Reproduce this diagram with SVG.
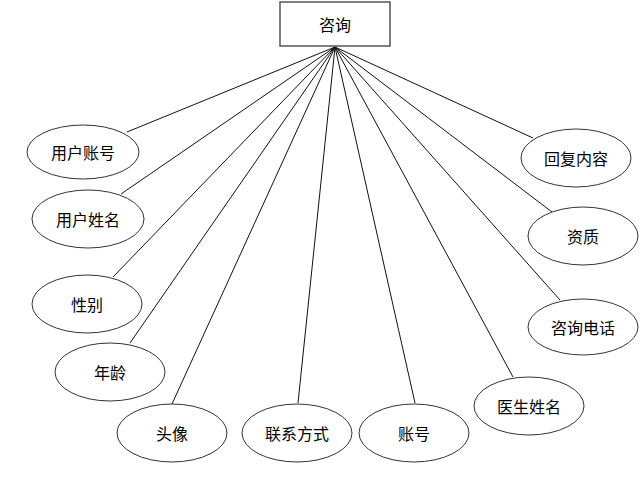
<svg xmlns="http://www.w3.org/2000/svg" width="641" height="493" viewBox="0 0 641 493">
<style>
.n{fill:#fff;stroke:#333;stroke-width:1}
.t{font-family:"Noto Sans CJK SC","Liberation Sans",sans-serif;font-size:16px;fill:#000;text-anchor:middle;dominant-baseline:central}
.c line{stroke:#111;stroke-width:1}
</style>
<rect width="641" height="493" fill="#fff"/>
<g class="c" id="connectors">
<line x1="335" y1="47" x2="127" y2="132"/>
<line x1="335" y1="47" x2="121" y2="194"/>
<line x1="335" y1="47" x2="113" y2="277"/>
<line x1="335" y1="47" x2="130" y2="343"/>
<line x1="335" y1="47" x2="172" y2="404"/>
<line x1="335" y1="47" x2="298" y2="403"/>
<line x1="335" y1="47" x2="415" y2="403"/>
<line x1="335" y1="47" x2="513" y2="377"/>
<line x1="335" y1="47" x2="560" y2="300"/>
<line x1="335" y1="47" x2="552" y2="212"/>
<line x1="335" y1="47" x2="533" y2="138"/>
</g>
<g id="n0"><rect class="n" x="280" y="2" width="110" height="44" style="stroke:#555;stroke-width:1.5"/><text class="t" x="335" y="24">咨询</text></g>
<g id="n1"><ellipse class="n" cx="83" cy="152" rx="56" ry="27"/><text class="t" x="83" y="152">用户账号</text></g>
<g id="n2"><ellipse class="n" cx="88" cy="219" rx="56" ry="29"/><text class="t" x="88" y="219">用户姓名</text></g>
<g id="n3"><ellipse class="n" cx="87" cy="304" rx="55" ry="29"/><text class="t" x="87" y="304">性别</text></g>
<g id="n4"><ellipse class="n" cx="110" cy="372" rx="55" ry="29"/><text class="t" x="110" y="372">年龄</text></g>
<g id="n5"><ellipse class="n" cx="172" cy="433" rx="55" ry="29"/><text class="t" x="172" y="433">头像</text></g>
<g id="n6"><ellipse class="n" cx="297" cy="433" rx="55" ry="29"/><text class="t" x="297" y="433">联系方式</text></g>
<g id="n7"><ellipse class="n" cx="414" cy="433" rx="55" ry="29"/><text class="t" x="414" y="433">账号</text></g>
<g id="n8"><ellipse class="n" cx="529" cy="406" rx="55" ry="29"/><text class="t" x="529" y="406">医生姓名</text></g>
<g id="n9"><ellipse class="n" cx="583" cy="327" rx="55" ry="28"/><text class="t" x="583" y="327">咨询电话</text></g>
<g id="n10"><ellipse class="n" cx="583" cy="236" rx="55" ry="29"/><text class="t" x="583" y="236">资质</text></g>
<g id="n11"><ellipse class="n" cx="576" cy="158" rx="55" ry="29"/><text class="t" x="576" y="158">回复内容</text></g>
</svg>
